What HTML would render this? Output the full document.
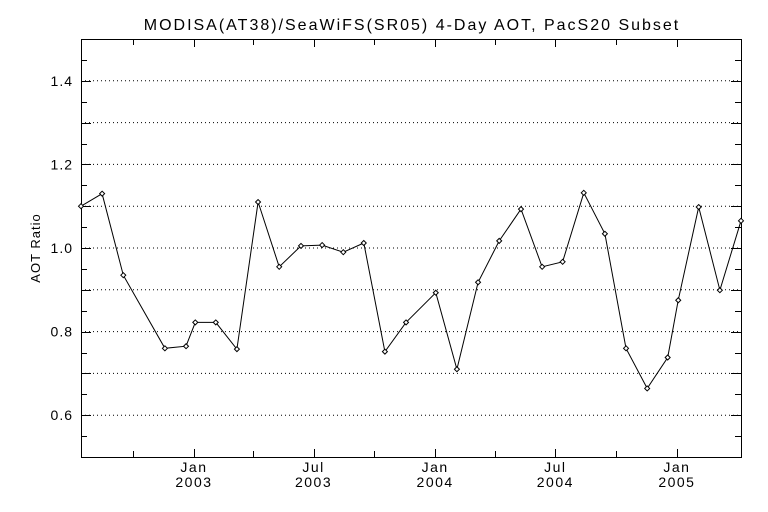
<!DOCTYPE html>
<html><head><meta charset="utf-8"><style>
body{margin:0;background:#fff;}
svg{display:block;font-family:"Liberation Sans",sans-serif;}
</style></head><body>
<svg id="chart" width="768" height="512">
<text x="412" y="30" text-anchor="middle" font-size="16" letter-spacing="2">MODISA(AT38)/SeaWiFS(SR05) 4-Day AOT, PacS20 Subset</text>
<text transform="translate(40,248) rotate(-90)" text-anchor="middle" font-size="13" letter-spacing="1">AOT Ratio</text>
<g id="grid"></g><g id="axes"></g><g id="series"></g>
</svg>
<script>
const dates=["2002-07-14","2002-08-15","2002-09-16","2002-11-18","2002-12-20","2003-01-03","2003-02-03","2003-03-07","2003-04-08","2003-05-10","2003-06-12","2003-07-14","2003-08-15","2003-09-15","2003-10-17","2003-11-18","2004-01-02","2004-02-03","2004-03-06","2004-04-07","2004-05-10","2004-06-11","2004-07-12","2004-08-13","2004-09-14","2004-10-16","2004-11-17","2004-12-18","2005-01-03","2005-02-03","2005-03-07","2005-04-08"];
const ratios=[1.10,1.13,0.935,0.76,0.765,0.822,0.822,0.758,1.11,0.955,1.005,1.007,0.99,1.012,0.752,0.822,0.893,0.71,0.918,1.017,1.093,0.955,0.967,1.132,1.034,0.76,0.664,0.738,0.875,1.098,0.899,1.065];
const yTicks=[0.6,0.8,1.0,1.2,1.4];
const yTickLabels=["0.6","0.8","1.0","1.2","1.4"];
const xTickDates=["2003-01-01","2003-07-01","2004-01-01","2004-07-01","2005-01-01"];
const xTickMonths=["Jan","Jul","Jan","Jul","Jan"];
const xTickYears=["2003","2003","2004","2004","2005"];
const xMinorDates=["2002-10-01","2003-04-01","2003-10-01","2004-04-01","2004-10-01"];

const L=81,R=741,T=39,B=457;
const d0=Date.UTC(2002,6,14),d1=Date.UTC(2005,3,8);
function ts(s){const p=s.split('-');return Date.UTC(+p[0],+p[1]-1,+p[2]);}
function xs(s){return L+(ts(s)-d0)/(d1-d0)*(R-L);}
function ys(v){return B-(v-0.5)/(1.0)*(B-T);}
const NS="http://www.w3.org/2000/svg";
function mk(tag,attrs,parent){const e=document.createElementNS(NS,tag);for(const k in attrs)e.setAttribute(k,attrs[k]);parent.appendChild(e);return e;}
const grid=document.getElementById('grid'),axes=document.getElementById('axes'),series=document.getElementById('series');
for(let i=6;i<=14;i++){const v=i/10,y=ys(v);
 const g=mk('line',{x1:L,x2:R,y1:y,y2:y,stroke:'#000','stroke-width':1,'stroke-dasharray':'1 3'},grid);
 
 }
for(let i=0;i<=20;i++){const v=0.5+i*0.05,y=Math.round(ys(v))+0.5;const len=(i%2===0)?10:6;
 const a=mk('line',{x1:L,x2:L+len,y1:y,y2:y,stroke:'#000'},axes);
 
 
 const b=mk('line',{x1:R-len,x2:R,y1:y,y2:y,stroke:'#000'},axes);
 
 }
yTicks.forEach((v,i)=>{const t=mk('text',{x:L-8,y:ys(v)+5,'text-anchor':'end','font-size':14,'letter-spacing':1},axes);t.textContent=yTickLabels[i];
 
 });
const frame=mk('rect',{x:L+0.5,y:T+0.5,width:R-L,height:B-T,fill:'none',stroke:'#000','stroke-width':1},axes);


xTickDates.concat(xMinorDates).forEach((s,i)=>{const x=Math.round(xs(s))+0.5;const len=i<xTickDates.length?8:6;
 const a=mk('line',{x1:x,x2:x,y1:B,y2:B-len,stroke:'#000'},axes);
 
 
 const b=mk('line',{x1:x,x2:x,y1:T,y2:T+len,stroke:'#000'},axes);
 
 });
xTickDates.forEach((s,i)=>{const x=xs(s);
 const m=mk('text',{x:x,y:B+15,'text-anchor':'middle','font-size':14,'letter-spacing':1.5},axes);m.textContent=xTickMonths[i];
 
 
 const yv=mk('text',{x:x,y:B+30,'text-anchor':'middle','font-size':14,'letter-spacing':1.5},axes);yv.textContent=xTickYears[i];
 
 });
const pts=dates.map((d,i)=>[xs(d),ys(ratios[i])]);
const line=mk('polyline',{points:pts.map(p=>p[0].toFixed(1)+','+p[1].toFixed(1)).join(' '),fill:'none',stroke:'#000','stroke-width':1},series);


pts.forEach(p=>{const m=mk('path',{d:`M${p[0]-2.5},${p[1]}L${p[0]},${p[1]-2.5}L${p[0]+2.5},${p[1]}L${p[0]},${p[1]+2.5}Z`,fill:'#fff',stroke:'#000','stroke-width':1},series);
 
 });
</script>
</body></html>
